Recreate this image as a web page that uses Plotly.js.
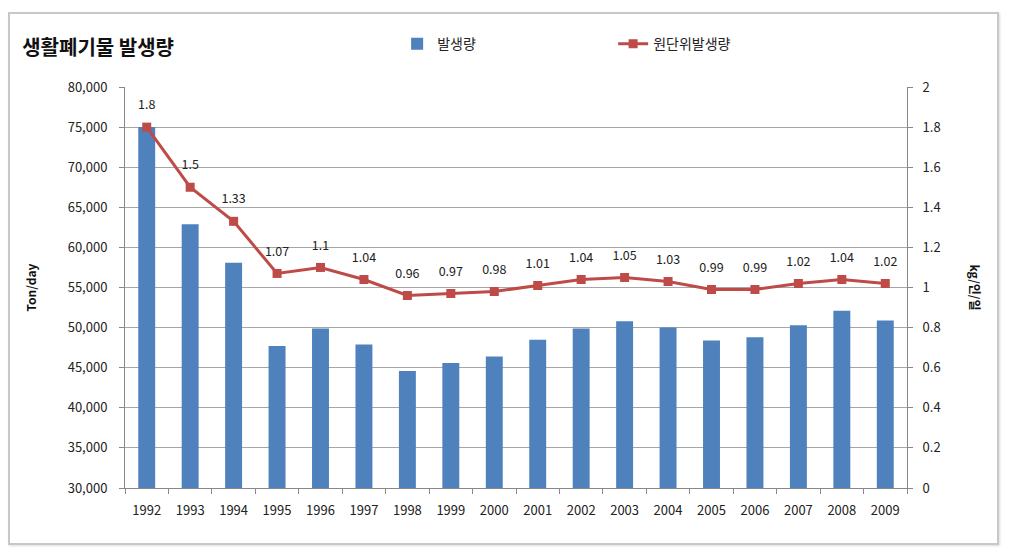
<!DOCTYPE html>
<html>
<head>
<meta charset="utf-8">
<script src="https://cdn.plot.ly/plotly-3.0.1.min.js"></script>
<style>
  html, body { margin: 0; padding: 0; background: #fff; }
  #wrap { position: relative; width: 1009px; height: 553px; }
  #chart { width: 1009px; height: 553px; }
  #frame { position: absolute; left: 8px; top: 12px; width: 987px; height: 529px;
           border: 2px solid #c8c8c8; box-shadow: 1px 1px 2px #ddd; pointer-events: none; }
</style>
</head>
<body>
<div id="wrap">
  <div id="chart"></div>
  <div id="frame"></div>
</div>
<script>
const years = ['1992','1993','1994','1995','1996','1997','1998','1999','2000','2001','2002','2003','2004','2005','2006','2007','2008','2009'];
const amount = [75000, 62900, 58100, 47700, 49900, 47900, 44600, 45600, 46400, 48500, 49900, 50800, 50000, 48400, 48800, 50300, 52100, 50900];
const perCapita = [1.8, 1.5, 1.33, 1.07, 1.1, 1.04, 0.96, 0.97, 0.98, 1.01, 1.04, 1.05, 1.03, 0.99, 0.99, 1.02, 1.04, 1.02];
const seriesNames = ['발생량', '원단위발생량'];
const chartTitle = '생활폐기물 발생량';
const leftTitle = 'Ton/day';
const rightTitle = 'kg/인/일';

const FONT = 'Noto Sans CJK KR, Open Sans, sans-serif';

const traces = [
  {
    type: 'bar', name: seriesNames[0], x: years, y: amount,
    marker: { color: '#4f81bd' }, width: 0.39, yaxis: 'y', hoverinfo: 'x+y'
  },
  {
    type: 'scatter', mode: 'lines+markers', name: seriesNames[1], x: years, y: perCapita,
    yaxis: 'y2', line: { color: '#be4b48', width: 3 },
    marker: { symbol: 'square', size: 9, color: '#be4b48' }
  },
  {
    type: 'scatter', mode: 'markers+text', showlegend: false, x: years, y: perCapita,
    yaxis: 'y2', marker: { size: 22, opacity: 0, color: '#be4b48' },
    text: perCapita.map(v => String(v)), textposition: 'top center',
    textfont: { size: 12.5, color: '#222', family: FONT }, cliponaxis: false
  }
];

const layout = {
  width: 1009, height: 553,
  margin: { l: 125, r: 102, t: 87, b: 65 },
  paper_bgcolor: '#fff', plot_bgcolor: '#fff',
  font: { family: FONT, size: 13, color: '#333' },
  showlegend: true,
  title: { text: '<b>' + chartTitle + '</b>', xref: 'container', yref: 'container',
           x: 0.022, xanchor: 'left', y: 0.913, yanchor: 'middle',
           font: { size: 20, color: '#111', family: FONT } },
  legend: { orientation: 'h', x: 0.348, xanchor: 'left', y: 1.107, yanchor: 'middle',
            entrywidth: 171, entrywidthmode: 'pixels', font: { size: 14, color: '#222' },
            traceorder: 'normal', itemwidth: 30 },
  bargap: 0.6,
  xaxis: {
    type: 'category', range: [-0.5, years.length - 0.5], tickson: 'boundaries',
    ticks: 'outside', ticklen: 5, tickcolor: '#888', ticklabelstandoff: 10,
    showline: true, linecolor: '#888', linewidth: 1, showgrid: false,
    tickfont: { size: 13, color: '#222' }, fixedrange: true
  },
  yaxis: {
    range: [30000, 80000], dtick: 5000, tickformat: ',d',
    showgrid: true, gridcolor: '#a6a6a6', gridwidth: 1,
    showline: true, linecolor: '#888', ticks: 'outside', ticklen: 5, tickcolor: '#888',
    ticklabelstandoff: 9,
    tickfont: { size: 13, color: '#222' }, zeroline: false,
    title: { text: '<b>' + leftTitle + '</b>', font: { size: 12, color: '#111' }, standoff: 28 },
    automargin: false
  },
  yaxis2: {
    overlaying: 'y', side: 'right', range: [0, 2], dtick: 0.2,
    showgrid: false, showline: true, linecolor: '#888', ticks: 'outside', ticklen: 5, tickcolor: '#888',
    ticklabelstandoff: 7,
    tickfont: { size: 13, color: '#222' }, zeroline: false, automargin: false
  },
  annotations: [
    { text: '<b>' + rightTitle + '</b>', xref: 'paper', yref: 'paper', x: 1.087, y: 0.5,
      xanchor: 'center', yanchor: 'middle', textangle: 90, showarrow: false,
      font: { size: 12, color: '#111', family: FONT } }
  ]
};

Plotly.newPlot('chart', traces, layout, { displayModeBar: false, staticPlot: true });
</script>
</body>
</html>
